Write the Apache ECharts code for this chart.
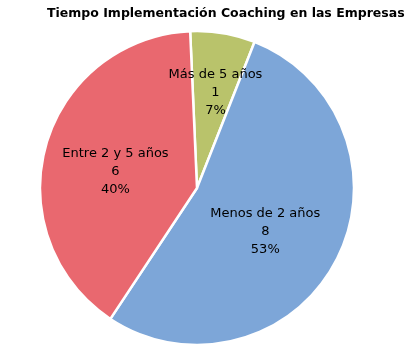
<!DOCTYPE html>
<html><head><meta charset="utf-8">
<script src="https://cdn.jsdelivr.net/npm/echarts@6/dist/echarts.min.js"></script>
<style>html,body{margin:0;padding:0;background:#fff}#c{width:415px;height:356px}</style>
</head><body><div id="c"></div>
<script>
var titleText = 'Tiempo Implementación Coaching en las Empresas';
var categories = ['Más de 5 años', 'Menos de 2 años', 'Entre 2 y 5 años'];
var values = [1, 8, 6];
var colors = ['#B9C36B', '#7DA6D8', '#E9686F'];
var total = values.reduce(function(a,b){return a+b;},0);
var labelShift = [[5,-15],[-4,6],[-3,5]];
var chart = echarts.init(document.getElementById('c'), null, {renderer:'canvas'});
chart.setOption({
  animation:false,
  title:{text:titleText,left:42,top:2,textStyle:{fontFamily:'DejaVu Sans',fontSize:12.5,fontWeight:'bold',color:'#000'}},
  series:[{
    type:'pie',
    center:[197,188],
    radius:[0,157],
    startAngle:92.5,
    clockwise:true,
    data:categories.map(function(c,i){return {name:c,value:values[i],itemStyle:{color:colors[i]}};}),
    itemStyle:{borderColor:'#fff',borderWidth:2.5},
    label:{position:'inside',fontFamily:'DejaVu Sans',fontSize:13,color:'#000',lineHeight:18,
      formatter:function(p){return p.name+'\n'+p.value+'\n'+Math.round(p.value/total*100)+'%';}},
    labelLine:{show:false},
    labelLayout:function(p){return {dx:labelShift[p.dataIndex][0],dy:labelShift[p.dataIndex][1]};},
    emphasis:{disabled:true}
  }]
});
</script></body></html>
